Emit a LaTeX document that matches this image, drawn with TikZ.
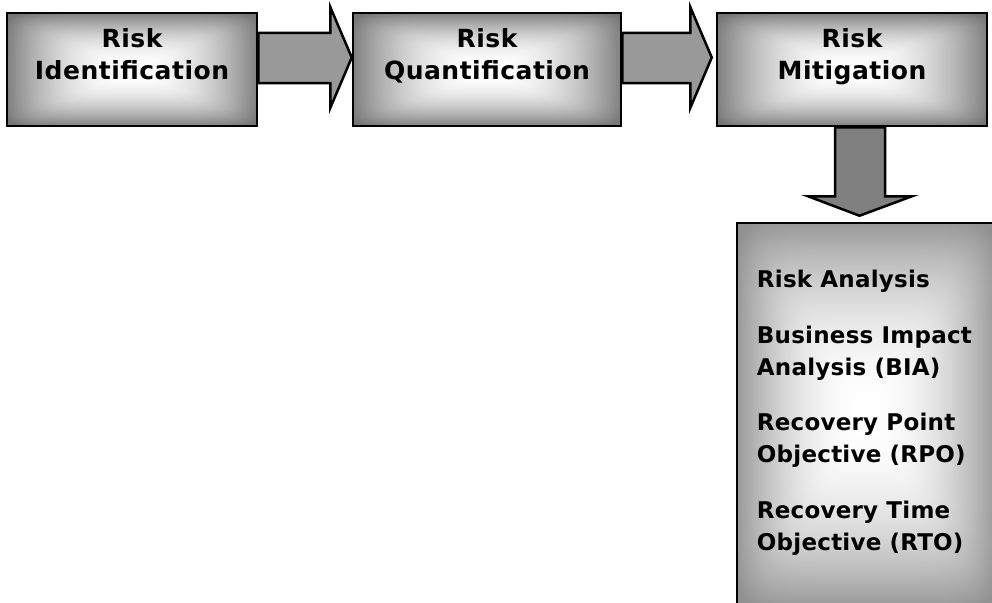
\documentclass[tikz,border=0pt]{standalone}
\usepackage{fontspec}
\usetikzlibrary{calc}
\newfontfamily\boxfont{DejaVu Sans}[LetterSpace=2]
\newfontfamily\listfont{DejaVu Sans}[LetterSpace=1]
\pgfdeclarefunctionalshading{rectglow}{\pgfpoint{-50bp}{-50bp}}{\pgfpoint{50bp}{50bp}}{}{25 div abs dup mul dup mul dup mul exch 25 div abs dup mul dup mul dup mul add 0.125 exp dup 1.04 gt {pop 1.04} if dup mul 0.5 mul neg 1 add dup dup}
\pgfdeclarefunctionalshading{rectglowsoft}{\pgfpoint{-50bp}{-50bp}}{\pgfpoint{50bp}{50bp}}{}{25 div abs dup mul dup mul dup mul exch 25 div abs dup mul dup mul dup mul add 0.125 exp dup 1.04 gt {pop 1.04} if dup mul 0.4 mul neg 1 add dup dup}
\definecolor{arrowgray}{gray}{0.6}
\definecolor{downgray}{gray}{0.5}
\tikzset{
  stagebox/.style={draw=black, line width=2.5pt, shade, shading=rectglow, inner sep=0pt},
  listbox/.style={draw=black, line width=2.5pt, shade, shading=rectglowsoft, inner sep=0pt},
  toptext/.style={font=\boxfont\bfseries\fontsize{25}{32}\selectfont, align=center, inner sep=0pt, anchor=base},
  listtext/.style={font=\listfont\bfseries\fontsize{23}{32}\selectfont, align=left, inner sep=0pt, anchor=base west},
  rarrow/.style={draw=black, line width=2.5pt, fill=arrowgray, line join=miter},
  darrow/.style={draw=black, line width=2.5pt, fill=downgray, line join=miter}
}
\begin{document}
\begin{tikzpicture}[x=1pt,y=-1pt]
\useasboundingbox (0,0) rectangle (992,602);
\clip (0,0) rectangle (992,602);
\node[stagebox, minimum width=250pt, minimum height=113pt] (b1) at (132,69.5) {};
\node[stagebox, minimum width=268pt, minimum height=113pt] (b2) at (487,69.5) {};
\node[stagebox, minimum width=270pt, minimum height=113pt] (b3) at (852,69.5) {};
\node[listbox, minimum width=259pt, minimum height=383pt] (b4) at (866.5,414.5) {};
% block arrows
\draw[rarrow] ($(b1.east)+(0,-36.5)$) -- ++(72,0) -- ++(0,-26) -- ($(b2.west)+(0,-12)$)
  -- ($(b1.east)+(72,38.5)$) -- ++(0,-25) -- ($(b1.east)+(0,13.5)$) -- cycle;
\draw[rarrow] ($(b2.east)+(0,-36.5)$) -- ++(68,0) -- ++(0,-26) -- ($(b3.west)+(-4,-12)$)
  -- ($(b2.east)+(68,38.5)$) -- ++(0,-25) -- ($(b2.east)+(0,13.5)$) -- cycle;
\draw[darrow] ($(b3.south)+(-17,0)$) -- ++(0,69) -- ++(-27,0) -- ($(b4.north)+(-7,-6)$)
  -- ($(b3.south)+(60,69)$) -- ++(-27,0) -- ($(b3.south)+(33,0)$) -- cycle;
% texts (base anchor = baseline of last line)
\node[toptext] (t1) at ($(b1.north)+(0,68)$) {Risk\\Identification};
\node[toptext] (t2) at ($(b2.north)+(0,68)$) {Risk\\Quantification};
\node[toptext] (t3) at ($(b3.north)+(0,68)$) {Risk\\Mitigation};
\node[listtext] (l1) at ($(b4.north west)+(21,66)$) {Risk Analysis};
\node[listtext] (l2) at ($(b4.north west)+(21,154)$) {Business Impact\\Analysis (BIA)};
\node[listtext] (l3) at ($(b4.north west)+(21,241)$) {Recovery Point\\Objective (RPO)};
\node[listtext] (l4) at ($(b4.north west)+(21,329)$) {Recovery Time\\Objective (RTO)};
\end{tikzpicture}
\end{document}
